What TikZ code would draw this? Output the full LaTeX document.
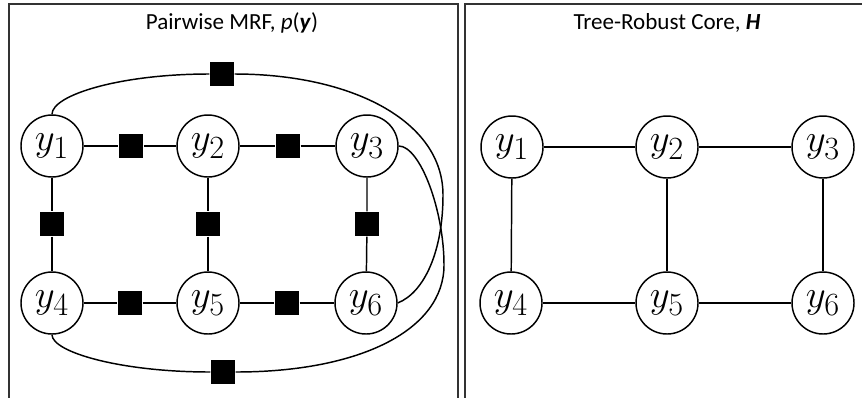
\documentclass[tikz,border=0pt]{standalone}
\usepackage{graphicx}
\usepackage{fontspec}
\setmainfont{Carlito}
\newcommand\yv[1]{\scalebox{1.17}{$y_{#1}$}}
\begin{document}
\begin{tikzpicture}[x=0.75pt,y=-0.75pt,
  var/.style={circle,draw,line width=1.1pt,minimum size=46.5pt,inner sep=0pt,font=\fontsize{24.88}{28}\selectfont},
  fac/.style={rectangle,fill=black,minimum size=18.5pt,inner sep=0pt},
  edge/.style={line width=1.1pt},
  frame/.style={draw=black!80,line width=1.2pt},
  ttl/.style={font=\fontsize{17.3}{20}\selectfont}]
\useasboundingbox (0,0) rectangle (862,397);
% frames
\draw[frame] (9,410) -- (9,4) -- (458,4) -- (458,410);
\draw[frame] (465,410) -- (465,4) -- (870,4);
% titles
\node[ttl] (t1) at (232,23) {Pairwise MRF, \textit{p}(\textbf{\textit{y}})};
\node[ttl] (t2) at (667,23) {Tree-Robust Core, \textbf{\textit{H}}};
% left panel variables
\node[var] (y1) at (52,146) {\yv1};
\node[var] (y2) at (208,146) {\yv2};
\node[var] (y3) at (367,146) {\yv3};
\node[var] (y4) at (52,303) {\yv4};
\node[var] (y5) at (208,303) {\yv5};
\node[var] (y6) at (366,303) {\yv6};
% factors
\node[fac] (f12) at (131,146) {};
\node[fac] (f23) at (288,146) {};
\node[fac] (f45) at (130,303) {};
\node[fac] (f56) at (287,303) {};
\node[fac] (f14) at (52,224) {};
\node[fac] (f25) at (208,224) {};
\node[fac] (f36) at (367,224) {};
\node[fac] (ftop) at (222,74) {};
\node[fac] (fbot) at (223,372) {};
\draw[edge] (y1) -- (f12) -- (y2) -- (f23) -- (y3);
\draw[edge] (y4) -- (f45) -- (y5) -- (f56) -- (y6);
\draw[edge] (y1) -- (f14) -- (y4);
\draw[edge] (y2) -- (f25) -- (y5);
\draw[edge] (y3) -- (f36) -- (y6);
\draw[edge] (y1.north) .. controls (52,95) and (120,74) .. (ftop.west);
\draw[edge] (ftop.east) .. controls (350,74) and (443,120) .. (443,195) .. controls (443,250) and (425,292) .. (y6.east);
\draw[edge] (y4.south) .. controls (52,352) and (120,372) .. (fbot.west);
\draw[edge] (y3.east) .. controls (420,146) and (444,210) .. (444,265) .. controls (444,330) and (360,372) .. (fbot.east);
% right panel
\node[var] (r1) at (512,147) {\yv1};
\node[var] (r2) at (667,147) {\yv2};
\node[var] (r3) at (823,147) {\yv3};
\node[var] (r4) at (511,303) {\yv4};
\node[var] (r5) at (667,303) {\yv5};
\node[var] (r6) at (823,303) {\yv6};
\draw[edge] (r1) -- (r2) -- (r3);
\draw[edge] (r4) -- (r5) -- (r6);
\draw[edge] (r1) -- (r4);
\draw[edge] (r2) -- (r5);
\draw[edge] (r3) -- (r6);
\end{tikzpicture}
\end{document}
